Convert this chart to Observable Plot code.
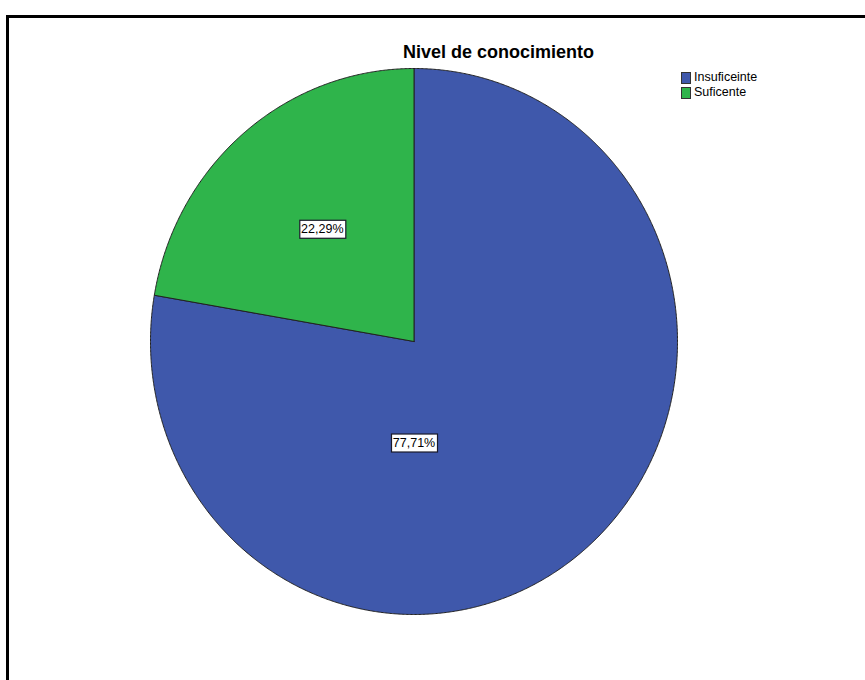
<!DOCTYPE html>
<html>
<head>
<meta charset="utf-8">
<script src="https://cdn.jsdelivr.net/npm/d3@7"></script>
<script src="https://cdn.jsdelivr.net/npm/@observablehq/plot@0.6"></script>
<style>
  html, body { margin: 0; padding: 0; background: #fff; }
  #wrap { position: relative; width: 865px; height: 680px; overflow: hidden; font-family: "Liberation Sans", Arial, sans-serif; }
  #frame { position: absolute; left: 6px; top: 15px; width: 1000px; height: 800px; border-left: 3px solid #000; border-top: 3px solid #000; box-sizing: border-box; }
  #title { position: absolute; left: 403px; top: 42px; font-size: 18px; line-height: 20px; font-weight: bold; color: #000; white-space: nowrap; }
  #legend { position: absolute; left: 681px; top: 70px; font-size: 12.5px; line-height: 15px; color: #000; }
  .row { display: flex; align-items: center; height: 15px; }
  .sw { width: 10px; height: 12px; border: 1px solid #333; box-sizing: border-box; margin-right: 3px; }
  #chart { position: absolute; left: 0; top: 0; }
</style>
</head>
<body>
<div id="wrap">
  <div id="frame"></div>
  <div id="chart"></div>
  <div id="title"></div>
  <div id="legend"></div>
</div>
<script>
// ---- data ----
const titleText = "Nivel de conocimiento";
const categories = ["Insuficeinte", "Suficente"];
const percents = [77.71, 22.29];
const colors = ["#3f58ab", "#2fb44b"];

// ---- build slices from the data ----
const arcs = d3.pie().sort(null).value(d => d)(percents);
const points = [];
arcs.forEach((a, i) => {
  const cat = categories[i];
  points.push({cat, x: 0, y: 0});
  const steps = Math.max(2, Math.ceil((a.endAngle - a.startAngle) / 0.005));
  for (let k = 0; k <= steps; k++) {
    const t = a.startAngle + (a.endAngle - a.startAngle) * k / steps;
    points.push({cat, x: Math.sin(t), y: Math.cos(t)});
  }
  points.push({cat, x: 0, y: 0});
});

// label placement (SPSS style): big slice straight below centre, small slice at its mid angle
const labels = arcs.map((a, i) => {
  const mid = (a.startAngle + a.endAngle) / 2;
  const ang = percents[i] > 50 ? Math.PI : mid;
  const r = percents[i] > 50 ? 0.37 : 0.54;
  return {
    x: Math.sin(ang) * r,
    y: Math.cos(ang) * r,
    text: percents[i].toFixed(2).replace(".", ",") + "%"
  };
});

const plot = Plot.plot({
  width: 865,
  height: 680,
  marginLeft: 150,
  marginRight: 188,
  marginTop: 68,
  marginBottom: 66,
  x: {domain: [-1, 1], axis: null},
  y: {domain: [-1, 1], axis: null},
  color: {domain: categories, range: colors},
  style: {background: "transparent", overflow: "visible"},
  marks: [
    Plot.line(points, {x: "x", y: "y", z: "cat", fill: "cat", stroke: "#222", strokeWidth: 1, curve: "linear"}),
    Plot.text(labels, {x: "x", y: "y", text: "text", fill: "#000", fontSize: 12.5, fontFamily: "Liberation Sans, Arial, sans-serif", className: "plabel"})
  ]
});
document.getElementById("chart").appendChild(plot);

// white boxes behind labels
plot.querySelectorAll(".plabel text").forEach(t => {
  const b = t.getBBox();
  const r = document.createElementNS("http://www.w3.org/2000/svg", "rect");
  r.setAttribute("x", Math.round(b.x - 2) + 0.5);
  r.setAttribute("y", Math.round(b.y - 2) + 0.5);
  r.setAttribute("width", Math.round(b.width + 4));
  r.setAttribute("height", Math.round(b.height + 4));
  r.setAttribute("fill", "#fff");
  r.setAttribute("stroke", "#1a1a2a");
  r.setAttribute("stroke-width", "1.2");
  if (t.getAttribute("transform")) r.setAttribute("transform", t.getAttribute("transform"));
  t.parentNode.insertBefore(r, t);
});

document.getElementById("title").textContent = titleText;
const leg = document.getElementById("legend");
categories.forEach((c, i) => {
  const row = document.createElement("div");
  row.className = "row";
  const sw = document.createElement("div");
  sw.className = "sw";
  sw.style.background = colors[i];
  const lab = document.createElement("span");
  lab.textContent = c;
  row.appendChild(sw);
  row.appendChild(lab);
  leg.appendChild(row);
});
</script>
</body>
</html>
